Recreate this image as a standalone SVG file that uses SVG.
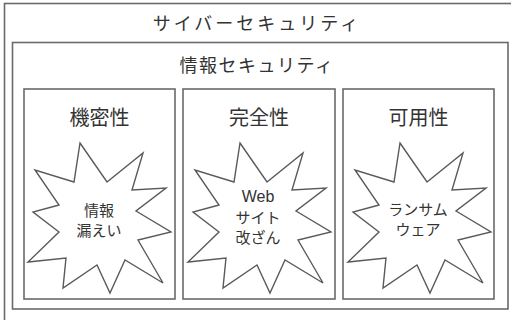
<svg xmlns="http://www.w3.org/2000/svg" xmlns:xlink="http://www.w3.org/1999/xlink" width="511" height="320" viewBox="0 0 511 320">
<style>
.box{fill:none;stroke:#6a6a6a;stroke-width:1.6}
.star{fill:#fff;stroke:#5a5a5a;stroke-width:1.4;stroke-linejoin:miter}
text{font-family:"Noto Sans CJK JP","Noto Sans",sans-serif;fill:#333;text-anchor:middle}
.h1{font-size:18px;letter-spacing:3px}
.h2{font-size:18px;letter-spacing:1.5px}
.t{font-size:20px}
.s{font-size:15px}
.w{font-family:"Liberation Sans","Noto Sans CJK JP",sans-serif;font-size:16px}
</style>
<defs>
<polygon id="star" points="-19,-77 8,-38 44,-67 33,-30 67,-32 37,-9 72,12 39,20 64,63 26,40 11,73 -2,45 -36,68 -33,38 -71,42 -40,12 -66,-8 -40,-15 -64,-50 -25,-38"/>
</defs>
<g id="cyber">
<rect class="box" x="4.5" y="3.5" width="520" height="330"/>
<text class="h1" x="257" y="30">サイバーセキュリティ</text>
</g>
<g id="infosec">
<rect class="box" x="12.5" y="42.5" width="495.5" height="266.5"/>
<text class="h2" x="257" y="72">情報セキュリティ</text>
</g>
<g id="confidentiality">
<rect class="box" x="24" y="89" width="151" height="210"/>
<text class="t" x="99.5" y="125">機密性</text>
<use xlink:href="#star" class="star" transform="translate(99,220)"/>
<text class="s" x="99" y="216">情報</text>
<text class="s" x="99" y="236">漏えい</text>
</g>
<g id="integrity">
<rect class="box" x="183" y="89" width="152" height="210"/>
<text class="t" x="259" y="125">完全性</text>
<use xlink:href="#star" class="star" transform="translate(259,220)"/>
<text class="w" x="258" y="202">Web</text>
<text class="s" x="258" y="223">サイト</text>
<text class="s" x="258" y="243">改ざん</text>
</g>
<g id="availability">
<rect class="box" x="343" y="89" width="151" height="210"/>
<text class="t" x="418.5" y="125">可用性</text>
<use xlink:href="#star" class="star" transform="translate(419,220)"/>
<text class="s" x="418" y="215">ランサム</text>
<text class="s" x="418" y="235">ウェア</text>
</g>
<g id="connectors"/>
</svg>
